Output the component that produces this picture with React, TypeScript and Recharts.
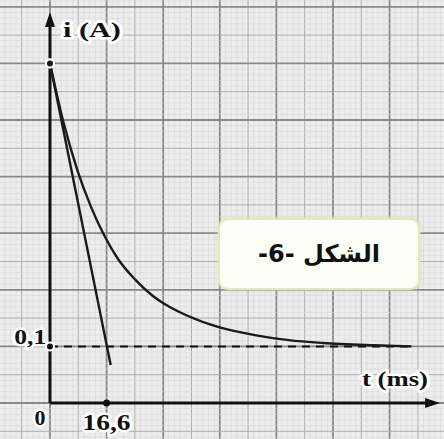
import {
  ComposedChart,
  Line,
  XAxis,
  YAxis,
  ReferenceLine,
  ReferenceDot,
} from 'recharts';

// values: time in ms, current in A
const CURVE_T = [0, 4, 8, 12, 16, 20, 25, 30, 35, 40, 50, 60, 70, 80, 95, 106];
const CURVE_I = [0.6, 0.495, 0.412, 0.347, 0.295, 0.254, 0.218, 0.19, 0.17, 0.155, 0.133, 0.12, 0.111, 0.106, 0.102, 0.1];

const TANGENT_T = [0, 17.8];
const TANGENT_I = [0.6, 0.067];

const ASYMPTOTE_T = [0, 106];
const ASYMPTOTE_I = [0.1, 0.1];

const TAU = 16.6;
const I_LIMIT = 0.1;

const X_DOMAIN: [number, number] = [-14.66, 115.56];
const Y_DOMAIN: [number, number] = [-0.0636, 0.712];

const W = 444;
const H = 439;

const toRows = (ts: number[], is: number[]) => ts.map((t, k) => ({ t, i: is[k] }));

const curveData = toRows(CURVE_T, CURVE_I);
const tangentData = toRows(TANGENT_T, TANGENT_I);
const asymptoteData = toRows(ASYMPTOTE_T, ASYMPTOTE_I);

// graph paper: a major square is TAU ms wide and 0.1 A high
function gridLines(step: number, lo: number, hi: number) {
  const out: { v: number; level: number }[] = [];
  const minor = step / 10;
  const first = Math.ceil(lo / minor);
  const last = Math.floor(hi / minor);
  for (let k = first; k <= last; k++) {
    const level = k % 10 === 0 ? 2 : k % 5 === 0 ? 1 : 0;
    out.push({ v: k * minor, level });
  }
  return out;
}

const vLines = gridLines(TAU, X_DOMAIN[0], X_DOMAIN[1]);
const hLines = gridLines(0.1, Y_DOMAIN[0], Y_DOMAIN[1]);

const GRID_STYLE = [
  { stroke: '#d6d6d6', width: 0.6 },
  { stroke: '#adadad', width: 1 },
  { stroke: '#888888', width: 1.8 },
];

const serif = '"Liberation Serif", "DejaVu Serif", serif';

function label(text: string, size: number, anchor: 'start' | 'middle' | 'end', len?: number) {
  return (p: any) => (
    <text
      x={p.cx}
      y={p.cy}
      textAnchor={anchor}
      fontFamily={serif}
      fontWeight="bold"
      fontSize={size}
      fill="#111"
      stroke="#ffffff"
      strokeWidth={5}
      strokeLinejoin="round"
      paintOrder="stroke"
      textLength={len}
      lengthAdjust={len ? 'spacingAndGlyphs' : undefined}
    >
      {text}
    </text>
  );
}

export default function App() {
  return (
    <div style={{ position: 'absolute', left: 0, top: 0, width: W, height: H, background: '#ededed', overflow: 'hidden' }}>
      <ComposedChart width={W} height={H} margin={{ top: 0, right: 0, bottom: 0, left: 0 }}>
        <XAxis type="number" dataKey="t" domain={X_DOMAIN} allowDataOverflow hide />
        <YAxis type="number" dataKey="i" domain={Y_DOMAIN} allowDataOverflow hide />

        {vLines.map(g => (
          <ReferenceLine key={'v' + g.v} x={g.v} stroke={GRID_STYLE[g.level].stroke} strokeWidth={GRID_STYLE[g.level].width} />
        ))}
        {hLines.map(g => (
          <ReferenceLine key={'h' + g.v} y={g.v} stroke={GRID_STYLE[g.level].stroke} strokeWidth={GRID_STYLE[g.level].width} />
        ))}

        {/* axes */}
        <ReferenceLine segment={[{ x: 0, y: 0 }, { x: 0, y: 0.672 }]} stroke="#111" strokeWidth={3} />
        <ReferenceLine segment={[{ x: 0, y: 0 }, { x: 111.5, y: 0 }]} stroke="#111" strokeWidth={3} />
        <ReferenceDot
          x={0}
          y={0.691}
          shape={(p: any) => <polygon points={`${p.cx},${p.cy} ${p.cx - 5},${p.cy + 15} ${p.cx + 5},${p.cy + 15}`} fill="#111" />}
        />
        <ReferenceDot
          x={114.4}
          y={0}
          shape={(p: any) => <polygon points={`${p.cx},${p.cy} ${p.cx - 15},${p.cy - 5} ${p.cx - 15},${p.cy + 5}`} fill="#111" />}
        />

        <Line data={asymptoteData} dataKey="i" type="linear" stroke="#111" strokeWidth={2} strokeDasharray="8 6" dot={false} isAnimationActive={false} />
        <Line data={tangentData} dataKey="i" type="linear" stroke="#1a1a1a" strokeWidth={2.4} dot={false} isAnimationActive={false} />
        <Line data={curveData} dataKey="i" type="monotone" stroke="#1a1a1a" strokeWidth={2.4} dot={false} isAnimationActive={false} />

        <ReferenceDot x={0} y={I_LIMIT} r={3.5} fill="#111" stroke="none" />
        <ReferenceDot x={TAU} y={0} r={3.5} fill="#111" stroke="none" />

        <ReferenceDot x={3.8} y={0.647} shape={label('i (A)', 22, 'start', 58)} />
        <ReferenceDot x={91.5} y={0.03} shape={label('t (ms)', 21, 'start', 66)} />
        <ReferenceDot x={-1.1} y={0.104} shape={label('0,1', 22, 'end', 32)} />
        <ReferenceDot x={-2.9} y={-0.039} shape={label('0', 22, 'middle')} />
        <ReferenceDot x={TAU} y={-0.048} shape={label('16,6', 23, 'middle', 48)} />
      </ComposedChart>

      <div
        dir="ltr"
        style={{
          position: 'absolute',
          left: 218,
          top: 218,
          width: 202,
          height: 72,
          boxSizing: 'border-box',
          border: '2px solid #e3e9bd',
          borderRadius: 10,
          background: '#fcfdf5',
          boxShadow: '0 0 4px rgba(220,228,180,0.8)',
          display: 'flex',
          alignItems: 'center',
          justifyContent: 'center',
          fontFamily: '"DejaVu Sans", sans-serif',
          fontWeight: 'bold',
          fontSize: 24,
          color: '#111',
        }}
      >
        -6- الشكل
      </div>
    </div>
  );
}
